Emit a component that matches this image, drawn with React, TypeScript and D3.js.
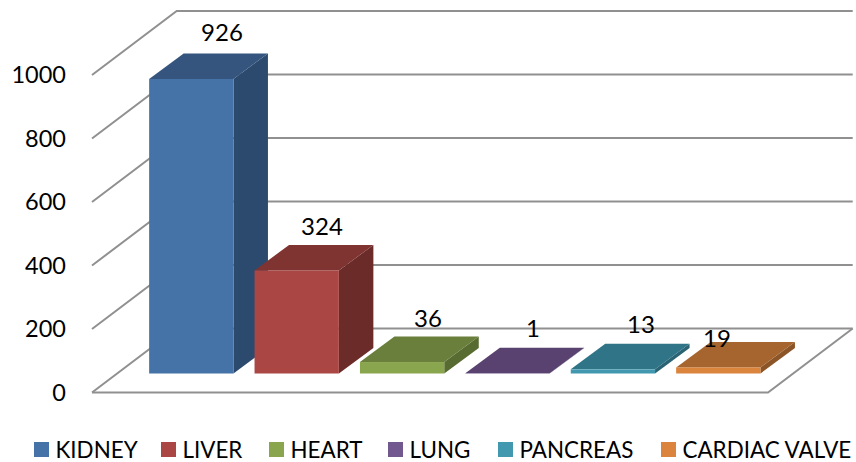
import * as d3 from "d3";

const categories = ["KIDNEY", "LIVER", "HEART", "LUNG", "PANCREAS", "CARDIAC VALVE"];
const values = [926, 324, 36, 1, 13, 19];
const ticks = [0, 200, 400, 600, 800, 1000];
const frontColors = ["#4573a7", "#aa4643", "#89a54e", "#71588f", "#4198af", "#db843d"];
const topColors = ["#35557f", "#803432", "#6a7f3b", "#5a4270", "#307487", "#a6652f"];
const sideColors = ["#2c4a6e", "#6b2b29", "#586c31", "#4a3660", "#2a6373", "#8c5527"];
const legendSwatchX = [34, 161, 269, 388, 498, 661];
// label centre and baseline, read off the picture because they don't sit on a regular offset
const labelPos: [number, number][] = [[222, 41], [322, 235], [428, 327], [533, 337], [641, 333], [717, 347]];

const w = 856;
const h = 462;
const font = "Lato, 'Open Sans', sans-serif";
const gridColor = "#909090";

// walls and floor are a sheared box; depth is how far the back plane sits from the front
const floorDepth = { dx: 84.7, dy: -64 };
const barDepth = { dx: 34.5, dy: -25.5 };
const frontLeft = 92;
const frontRight = 768;
const baseY = 392.5;
const barBase = 373.5;

export default function App() {
  const yAxis = d3.scaleLinear().domain([0, 1000]).range([baseY, 75]);
  const barH = d3.scaleLinear().domain([0, 926]).range([0, 294.5]);
  const x = d3
    .scaleBand<string>()
    .domain(categories)
    .range([138.6, 771])
    .paddingInner(0.2)
    .paddingOuter(0.1);
  const poly = d3.line<[number, number]>();
  const closed = (pts: [number, number][]) => (poly(pts) ?? "") + "Z";

  return (
    <svg
      width={w}
      height={h}
      viewBox={`0 0 ${w} ${h}`}
      style={{ position: "absolute", left: 0, top: 0, background: "#fff" }}
    >
      {/* grid lines: diagonal on the side wall, then along the back wall */}
      {ticks.map((t) => (
        <path
          key={t}
          d={
            poly([
              [frontLeft, yAxis(t)],
              [frontLeft + floorDepth.dx, yAxis(t) + floorDepth.dy],
              [frontRight + floorDepth.dx, yAxis(t) + floorDepth.dy],
            ]) ?? ""
          }
          fill="none"
          stroke={gridColor}
          strokeWidth={2}
        />
      ))}
      <path
        d={
          poly([
            [frontLeft, baseY],
            [frontRight, baseY],
            [frontRight + floorDepth.dx, baseY + floorDepth.dy],
          ]) ?? ""
        }
        fill="none"
        stroke={gridColor}
        strokeWidth={2}
      />

      {categories.map((c, i) => {
        const x0 = x(c) ?? 0;
        const x1 = x0 + x.bandwidth();
        const top = barBase - barH(values[i]);
        const { dx, dy } = barDepth;
        return (
          <g key={c}>
            <path
              d={closed([[x1, top], [x1 + dx, top + dy], [x1 + dx, barBase + dy], [x1, barBase]])}
              fill={sideColors[i]}
            />
            <path
              d={closed([[x0, top], [x0 + dx, top + dy], [x1 + dx, top + dy], [x1, top]])}
              fill={topColors[i]}
            />
            <rect x={x0} y={top} width={x.bandwidth()} height={barH(values[i])} fill={frontColors[i]} />
          </g>
        );
      })}

      {categories.map((c, i) => (
        <text
          key={c}
          x={labelPos[i][0]}
          y={labelPos[i][1]}
          textAnchor="middle"
          fontFamily={font}
          fontSize={24}
          fill="#000"
        >
          {values[i]}
        </text>
      ))}

      {ticks.map((t) => (
        <text
          key={t}
          x={66}
          y={yAxis(t)}
          dy="0.35em"
          textAnchor="end"
          fontFamily={font}
          fontSize={23.5}
          fill="#000"
        >
          {t}
        </text>
      ))}

      {categories.map((c, i) => (
        <g key={c}>
          <rect x={legendSwatchX[i]} y={442} width={15} height={15} fill={frontColors[i]} />
          <text x={legendSwatchX[i] + 21.5} y={457.5} fontFamily={font} fontSize={22.4} fill="#000">
            {c}
          </text>
        </g>
      ))}
    </svg>
  );
}
